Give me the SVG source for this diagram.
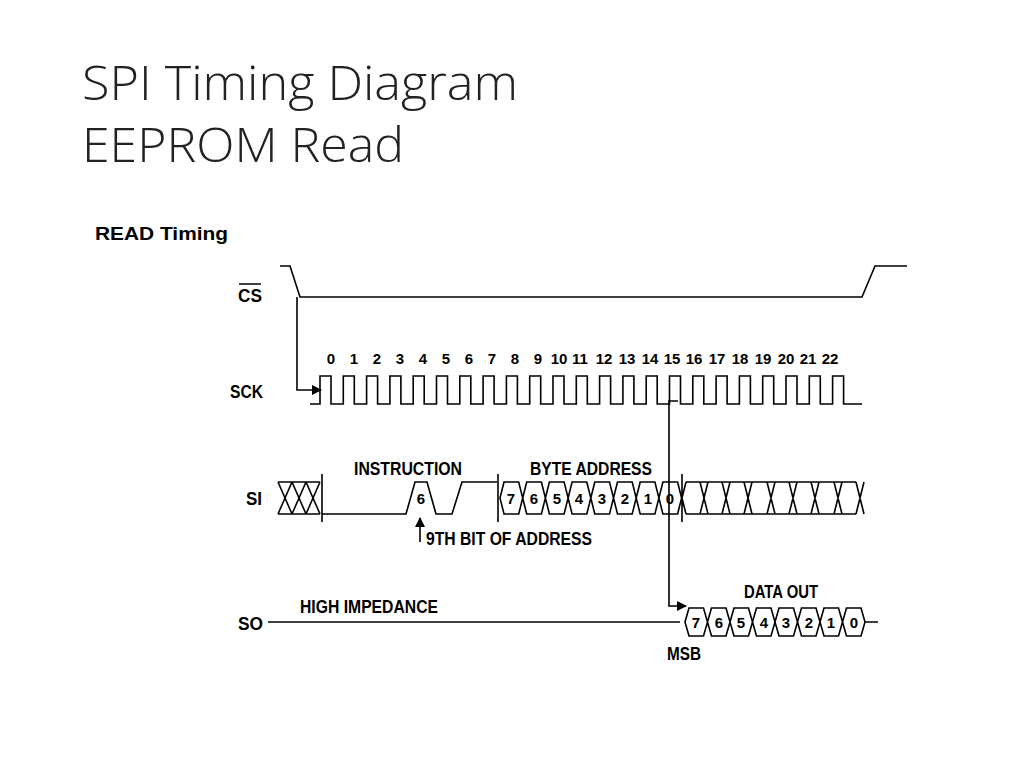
<svg xmlns="http://www.w3.org/2000/svg" width="1024" height="768" viewBox="0 0 1024 768">
<style>
.t{font-family:"Open Sans","Liberation Sans",sans-serif;font-weight:300;font-size:48px;fill:#222}
.l{font-family:"Liberation Sans",sans-serif;font-weight:bold;font-size:18px;fill:#000}
.n{font-family:"Liberation Sans",sans-serif;font-weight:bold;font-size:15px;fill:#000;text-anchor:middle}
.w{fill:none;stroke:#000;stroke-width:1.6}
</style>
<defs><marker id="a" markerWidth="10" markerHeight="10" refX="9" refY="5" orient="auto" markerUnits="userSpaceOnUse"><path d="M0,0 L10,5 L0,10 Z"/></marker></defs>
<rect width="1024" height="768" fill="#fff"/>
<g id="title"><text class="t" x="82" y="100" textLength="436" lengthAdjust="spacingAndGlyphs">SPI Timing Diagram</text><text class="t" x="82" y="162" textLength="322" lengthAdjust="spacingAndGlyphs">EEPROM Read</text></g>
<text class="l" x="95" y="240" textLength="133" lengthAdjust="spacingAndGlyphs">READ Timing</text>
<g id="labels">
<text class="l" x="238" y="302" textLength="24" lengthAdjust="spacingAndGlyphs">CS</text><line x1="239" y1="284" x2="261" y2="284" stroke="#000" stroke-width="1.5"/>
<text class="l" x="230" y="398" textLength="33" lengthAdjust="spacingAndGlyphs">SCK</text>
<text class="l" x="246" y="505" textLength="16" lengthAdjust="spacingAndGlyphs">SI</text>
<text class="l" x="238" y="630" textLength="25" lengthAdjust="spacingAndGlyphs">SO</text>
</g>
<g id="cs"><path class="w" d="M280 266 H290 L300 297 H862 L875 266 H907"/></g>
<g id="sck">
<path class="w" d="M310 404 H320 V376 h11 V404 h12.3 V376 h11 V404 h12.3 V376 h11 V404 h12.3 V376 h11 V404 h12.3 V376 h11 V404 h12.3 V376 h11 V404 h12.3 V376 h11 V404 h12.3 V376 h11 V404 h12.3 V376 h11 V404 h12.3 V376 h11 V404 h12.3 V376 h11 V404 h12.3 V376 h11 V404 h12.3 V376 h11 V404 h12.3 V376 h11 V404 h12.3 V376 h11 V404 h12.3 V376 h11 V404 h12.3 V376 h11 V404 h12.3 V376 h11 V404 h12.3 V376 h11 V404 h12.3 V376 h11 V404 h12.3 V376 h11 V404 h12.3 V376 h11 V404 h12.3 V376 h11 V404 H862"/>
<g class="n">
<text x="331" y="364">0</text><text x="354" y="364">1</text><text x="377" y="364">2</text><text x="400" y="364">3</text><text x="423" y="364">4</text><text x="446" y="364">5</text><text x="469" y="364">6</text><text x="492" y="364">7</text><text x="515" y="364">8</text><text x="538" y="364">9</text><text x="559" y="364">10</text><text x="580" y="364">11</text><text x="604" y="364">12</text><text x="627" y="364">13</text><text x="650" y="364">14</text><text x="672" y="364">15</text><text x="694" y="364">16</text><text x="717" y="364">17</text><text x="740" y="364">18</text><text x="763" y="364">19</text><text x="786" y="364">20</text><text x="808" y="364">21</text><text x="830" y="364">22</text>
</g></g>
<g id="si">
<path class="w" d="M278 482 H320 M278 514 H320 M278 482 L292 514 M292 482 L278 514 M292 482 L306 514 M306 482 L292 514 M306 482 L320 514 M320 482 L306 514"/>
<path class="w" d="M322 474 V522 M322 514 H406 L415 482 H427 L436 514 H452 L462 482 H497 M498 474 V522"/>
<text class="n" x="421" y="504">6</text>
<text class="l" x="354" y="475" textLength="108" lengthAdjust="spacingAndGlyphs">INSTRUCTION</text>
<text class="l" x="530" y="475" textLength="122" lengthAdjust="spacingAndGlyphs">BYTE ADDRESS</text>
<path class="w" d="M500 498 L504 482 H518.7 L522.7 498 L518.7 514 H504 Z M522.7 498 L526.7 482 H541.4 L545.4 498 L541.4 514 H526.7 Z M545.4 498 L549.4 482 H564.1 L568.1 498 L564.1 514 H549.4 Z M568.1 498 L572.1 482 H586.8 L590.8 498 L586.8 514 H572.1 Z M590.8 498 L594.8 482 H609.5 L613.5 498 L609.5 514 H594.8 Z M613.5 498 L617.5 482 H632.2 L636.2 498 L632.2 514 H617.5 Z M636.2 498 L640.2 482 H654.9 L658.9 498 L654.9 514 H640.2 Z M658.9 498 L662.9 482 H677.6 L681.6 498 L677.6 514 H662.9 Z"/>
<g class="n"><text x="511" y="504">7</text><text x="534" y="504">6</text><text x="557" y="504">5</text><text x="579" y="504">4</text><text x="602" y="504">3</text><text x="625" y="504">2</text><text x="648" y="504">1</text><text x="670" y="504">0</text></g>
<path class="w" d="M686 482 H856 M686 514 H856 M682 474 V522 M682 498 L686 482 M682 498 L686 514 M700 482 L708 514 M700 514 L708 482 M722 482 L730 514 M722 514 L730 482 M744 482 L752 514 M744 514 L752 482 M767 482 L775 514 M767 514 L775 482 M789 482 L797 514 M789 514 L797 482 M811 482 L819 514 M811 514 L819 482 M834 482 L842 514 M834 514 L842 482 M856 482 L864 514 M856 514 L864 482"/>
<line class="w" x1="420" y1="542" x2="420" y2="518" marker-end="url(#a)"/>
<text class="l" x="426" y="545" textLength="166" lengthAdjust="spacingAndGlyphs">9TH BIT OF ADDRESS</text>
</g>
<g id="so">
<path class="w" d="M268 622 H680"/>
<text class="l" x="300" y="613" textLength="138" lengthAdjust="spacingAndGlyphs">HIGH IMPEDANCE</text>
<text class="l" x="744" y="598" textLength="74" lengthAdjust="spacingAndGlyphs">DATA OUT</text>
<text class="l" x="667" y="660" textLength="34" lengthAdjust="spacingAndGlyphs">MSB</text>
<path class="w" d="M685 622 L689 608 H703.5 L707.5 622 L703.5 636 H689 Z M707.5 622 L711.5 608 H726 L730 622 L726 636 H711.5 Z M730 622 L734 608 H748.5 L752.5 622 L748.5 636 H734 Z M752.5 622 L756.5 608 H771 L775 622 L771 636 H756.5 Z M775 622 L779 608 H793.5 L797.5 622 L793.5 636 H779 Z M797.5 622 L801.5 608 H816 L820 622 L816 636 H801.5 Z M820 622 L824 608 H838.5 L842.5 622 L838.5 636 H824 Z M842.5 622 L846.5 608 H861 L865 622 L861 636 H846.5 Z M865 622 H878"/>
<g class="n"><text x="696" y="628">7</text><text x="719" y="628">6</text><text x="741" y="628">5</text><text x="764" y="628">4</text><text x="786" y="628">3</text><text x="809" y="628">2</text><text x="831" y="628">1</text><text x="854" y="628">0</text></g>
</g>
<g id="connectors">
<path class="w" d="M297 297 V390 H321" marker-end="url(#a)"/>
<path class="w" d="M678 401 H669 V606 H686" marker-end="url(#a)"/>
</g>
</svg>
